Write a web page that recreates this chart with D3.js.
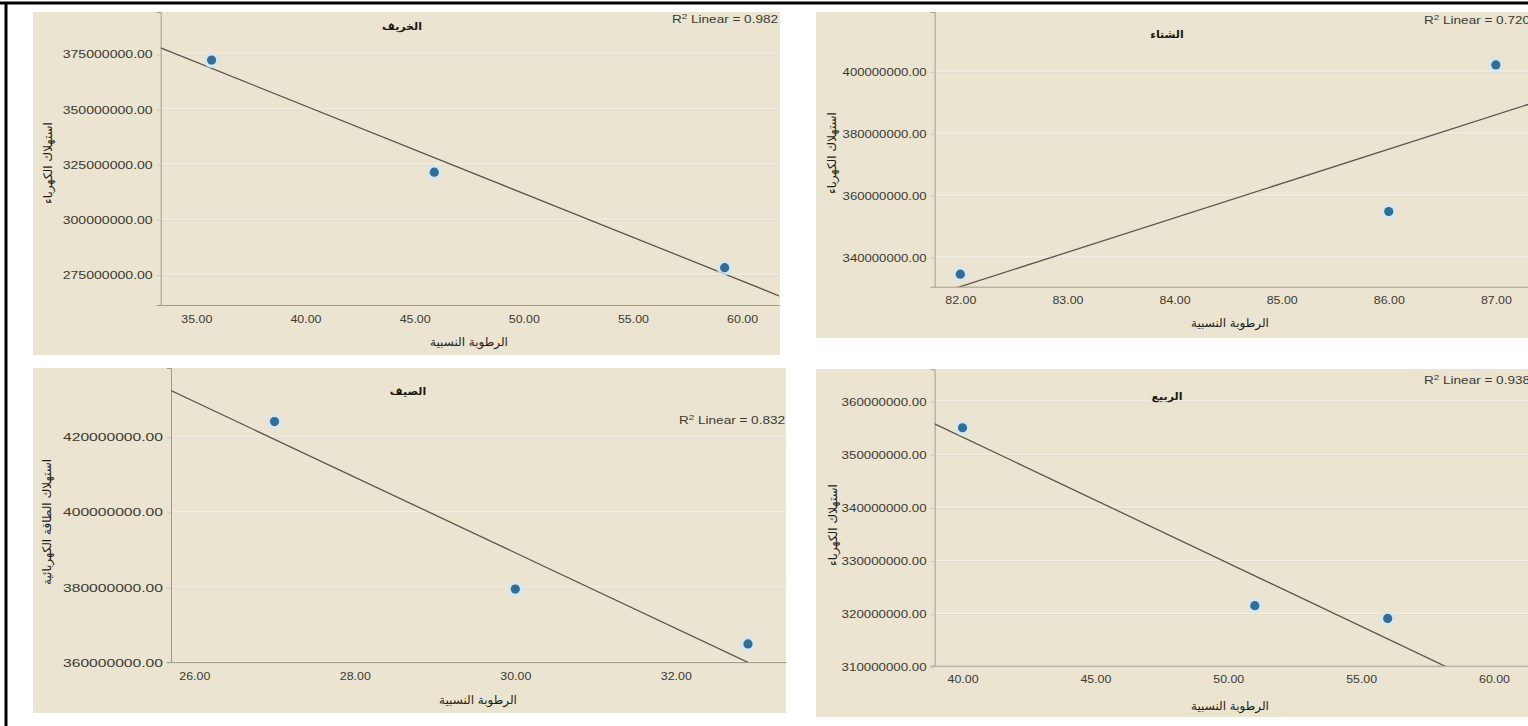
<!DOCTYPE html>
<html>
<head>
<meta charset="utf-8">
<script src="https://cdn.jsdelivr.net/npm/d3@7"></script>
<style>
  html, body { margin: 0; padding: 0; background: #ffffff; }
  svg { display: block; }
  .tick text { font-family: "Liberation Sans", Arial, sans-serif; fill: #3a3a32; }
  .arabic { font-family: "DejaVu Sans", "Noto Sans", sans-serif; }
</style>
</head>
<body>
<svg id="chart" width="1528" height="726"></svg>
<script>
// Season names (panel titles)
const seasons = ["الخريف", "الشتاء", "الصيف", "الربيع"];

// Relative humidity (x) and electricity consumption (y) per season
const humidityAutumn = [35.7, 45.9, 59.2];
const consumptionAutumn = [372400000, 321600000, 278300000];

const humidityWinter = [82, 86, 87];
const consumptionWinter = [334700000, 354900000, 402200000];

const humiditySummer = [27, 30, 32.9];
const consumptionSummer = [424200000, 379600000, 365000000];

const humiditySpring = [40, 51, 56];
const consumptionSpring = [355100000, 321600000, 319200000];

// Fit statistics shown on each panel
const r2Labels = ["0.982", "0.720", "0.832", "0.938"];

// Axis tick values
const autumnXTicks = [35, 40, 45, 50, 55, 60];
const autumnYTicks = [275000000, 300000000, 325000000, 350000000, 375000000];
const winterXTicks = [82, 83, 84, 85, 86, 87];
const winterYTicks = [340000000, 360000000, 380000000, 400000000];
const summerXTicks = [26, 28, 30, 32];
const summerYTicks = [360000000, 380000000, 400000000, 420000000];
const springXTicks = [40, 45, 50, 55, 60];
const springYTicks = [310000000, 320000000, 330000000, 340000000, 350000000, 360000000];

// Axis titles
const xTitle = "الرطوبة النسبية";
const yTitles = ["استهلاك الكهرباء", "استهلاك الكهرباء", "استهلاك الطاقة الكهربائية", "استهلاك الكهرباء"];

// Panel layout (pixel geometry and scale extents)
const panels = [
  { x: humidityAutumn, y: consumptionAutumn, xt: autumnXTicks, yt: autumnYTicks,
    bg: [33, 12, 780, 355], plot: [160.7, 12, 779, 305],
    xDom: [33.37, 61.69], yDom: [261.4e6, 394.2e6], yLabW: 90,
    title: [402, 30], r2: [778, 23, "end"], xt2: [469, 346], yt2: [48, 163] },
  { x: humidityWinter, y: consumptionWinter, xt: winterXTicks, yt: winterYTicks,
    bg: [816, 12, 1528, 338], plot: [934.6, 12, 1528, 286.7],
    xDom: [81.76, 87.3], yDom: [330.65e6, 419.26e6], yLabW: 84,
    title: [1167, 38], r2: [1424, 24, "start"], xt2: [1230, 327], yt2: [832, 153] },
  { x: humiditySummer, y: consumptionSummer, xt: summerXTicks, yt: summerYTicks,
    bg: [33, 368, 786, 713], plot: [171, 368, 785.7, 662],
    xDom: [25.71, 33.37], yDom: [360.19e6, 438.45e6], yLabW: 100,
    title: [408, 395], r2: [785, 424, "end"], xt2: [478, 704], yt2: [47, 522] },
  { x: humiditySpring, y: consumptionSpring, xt: springXTicks, yt: springYTicks,
    bg: [816, 369, 1528, 717], plot: [934.6, 369.3, 1528, 665.7],
    xDom: [38.95, 61.28], yDom: [310.3e6, 366.1e6], yLabW: 85,
    title: [1167, 400], r2: [1424, 384, "start"], xt2: [1230, 710], yt2: [833, 525] }
];

const svg = d3.select("#chart");
svg.append("rect").attr("width", 1528).attr("height", 726).attr("fill", "#ffffff");

// Least-squares line
function linearFit(xs, ys) {
  const mx = d3.mean(xs), my = d3.mean(ys);
  let sxy = 0, sxx = 0;
  xs.forEach((v, i) => { sxy += (v - mx) * (ys[i] - my); sxx += (v - mx) * (v - mx); });
  const slope = sxy / sxx;
  return { slope, intercept: my - slope * mx };
}

panels.forEach((p, i) => {
  const g = svg.append("g");
  const [bx0, by0, bx1, by1] = p.bg;
  const [left, top, right, bottom] = p.plot;

  g.append("rect")
    .attr("x", bx0).attr("y", by0)
    .attr("width", bx1 - bx0).attr("height", by1 - by0)
    .attr("fill", "#ebe4d1");

  const x = d3.scaleLinear().domain(p.xDom).range([left, right]);
  const y = d3.scaleLinear().domain(p.yDom).range([bottom, top]);

  const clipId = "clip" + i;
  g.append("clipPath").attr("id", clipId)
    .append("rect").attr("x", left).attr("y", top)
    .attr("width", right - left).attr("height", bottom - top);

  // horizontal grid lines
  g.append("g").selectAll("line").data(p.yt).join("line")
    .attr("x1", left).attr("x2", right)
    .attr("y1", d => y(d)).attr("y2", d => y(d))
    .attr("stroke", "#f6f2e8").attr("stroke-width", 2.2);
  g.append("g").selectAll("line").data(p.yt).join("line")
    .attr("x1", left).attr("x2", right)
    .attr("y1", d => y(d) + 0.5).attr("y2", d => y(d) + 0.5)
    .attr("stroke", "#d7d0bd").attr("stroke-width", 0.8);

  // y axis
  const yAxis = g.append("g")
    .attr("transform", `translate(${left},0)`)
    .call(d3.axisLeft(y).tickValues(p.yt).tickSize(4).tickPadding(4)
      .tickFormat(d => d3.format(".2f")(d)));
  yAxis.select(".domain").attr("stroke", "#a09a88");
  yAxis.selectAll(".tick line").attr("stroke", "#cfc8b4");
  yAxis.selectAll(".tick text")
    .attr("font-size", 11)
    .attr("textLength", p.yLabW)
    .attr("lengthAdjust", "spacingAndGlyphs");

  // x axis
  const xAxis = g.append("g")
    .attr("transform", `translate(0,${bottom})`)
    .call(d3.axisBottom(x).tickValues(p.xt).tickSize(0).tickPadding(10)
      .tickFormat(d => d3.format(".2f")(d)));
  xAxis.select(".domain").attr("stroke", "#a09a88");
  xAxis.selectAll(".tick text").attr("font-size", 11)
    .attr("textLength", 31).attr("lengthAdjust", "spacingAndGlyphs");

  // fit line
  const fit = linearFit(p.x, p.y);
  g.append("line")
    .attr("clip-path", `url(#${clipId})`)
    .attr("x1", x(p.xDom[0])).attr("y1", y(fit.intercept + fit.slope * p.xDom[0]))
    .attr("x2", x(p.xDom[1])).attr("y2", y(fit.intercept + fit.slope * p.xDom[1]))
    .attr("stroke", "#5a554a").attr("stroke-width", 1.3);

  // points
  const pts = p.x.map((v, k) => [v, p.y[k]]);
  g.append("g").selectAll("circle.halo").data(pts).join("circle")
    .attr("cx", d => x(d[0])).attr("cy", d => y(d[1])).attr("r", 8)
    .attr("fill", "#d7e6ee").attr("opacity", 0.8);
  g.append("g").selectAll("circle.dot").data(pts).join("circle")
    .attr("cx", d => x(d[0])).attr("cy", d => y(d[1])).attr("r", 4.6)
    .attr("fill", "#2f6e98");

  // title
  g.append("text").attr("class", "arabic")
    .attr("x", p.title[0]).attr("y", p.title[1])
    .attr("text-anchor", "middle").attr("font-size", 11).attr("font-weight", "bold")
    .attr("fill", "#1a1a14").text(seasons[i]);

  // R² label
  const r2 = g.append("text")
    .attr("x", p.r2[0]).attr("y", p.r2[1])
    .attr("text-anchor", p.r2[2])
    .attr("font-family", "Liberation Sans, Arial, sans-serif")
    .attr("font-size", 11).attr("fill", "#3a3a32")
    .attr("textLength", 106).attr("lengthAdjust", "spacingAndGlyphs");
  r2.append("tspan").text("R");
  r2.append("tspan").attr("dy", -4).attr("font-size", 8).text("2");
  r2.append("tspan").attr("dy", 4).text(" Linear = " + r2Labels[i]);

  // axis titles
  g.append("text").attr("class", "arabic")
    .attr("x", p.xt2[0]).attr("y", p.xt2[1])
    .attr("text-anchor", "middle").attr("font-size", 12)
    .attr("fill", "#1e1e18").text(xTitle);
  g.append("text").attr("class", "arabic")
    .attr("transform", `translate(${p.yt2[0] + 4},${p.yt2[1]}) rotate(-90)`)
    .attr("text-anchor", "middle").attr("font-size", 12)
    .attr("fill", "#1e1e18").text(yTitles[i]);
});

// outer frame lines
svg.append("line").attr("x1", 0).attr("x2", 1528).attr("y1", 3).attr("y2", 3)
  .attr("stroke", "#000").attr("stroke-width", 3);
svg.append("line").attr("x1", 6).attr("x2", 6).attr("y1", 2).attr("y2", 726)
  .attr("stroke", "#000").attr("stroke-width", 3);
</script>
</body>
</html>
